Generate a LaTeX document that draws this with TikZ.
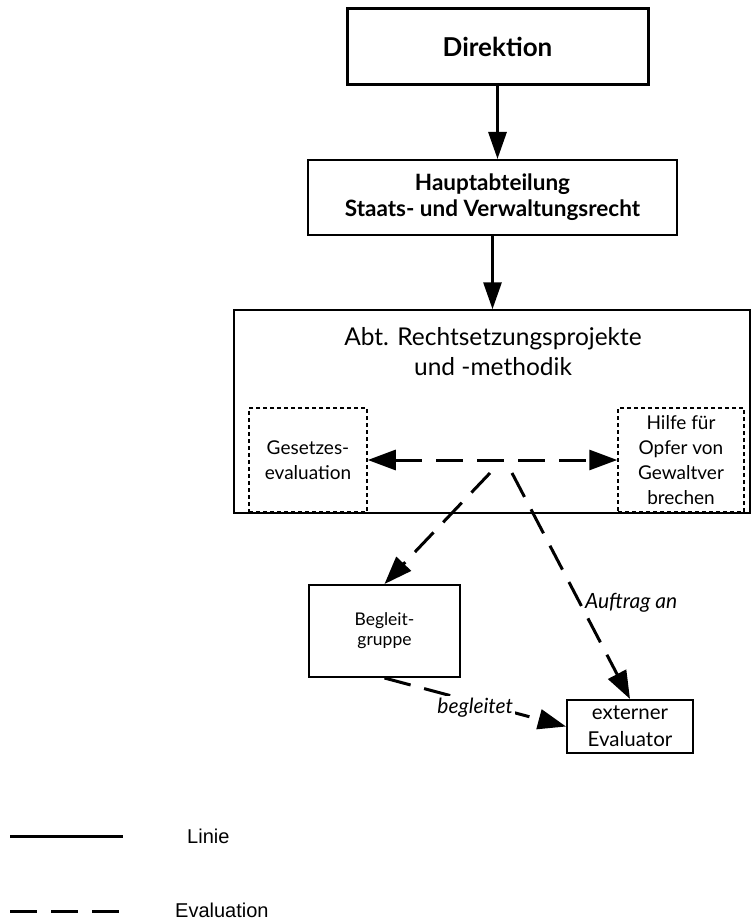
\documentclass[tikz,border=0pt]{standalone}
\usepackage{fontspec}
\setmainfont{Lato}
\newfontfamily\legendfont{Liberation Sans}
\usetikzlibrary{arrows.meta}
\tikzset{
  x=1pt, y=-1pt,
  boxbase/.style={draw, rectangle, align=center, inner sep=0pt},
  dotbox/.style={draw, rectangle, line width=1.5pt, dash pattern=on 4pt off 3pt, align=center, inner sep=0pt, font=\fontsize{19}{25}\selectfont},
  linearrow/.style={line width=3pt, -{Triangle[length=27pt,width=18pt]}},
  evarrow/.style={line width=3pt, dash pattern=on 27pt off 14pt, -{Triangle[length=28pt,width=20pt]}},
  evboth/.style={line width=3pt, dash pattern=on 27pt off 14pt, {Triangle[length=28pt,width=20pt]}-{Triangle[length=28pt,width=20pt]}},
  lbl/.style={font=\fontsize{21}{24}\selectfont\itshape, inner sep=2pt},
  legtext/.style={font=\legendfont\fontsize{20}{24}\selectfont, anchor=west, inner sep=0pt}
}
\begin{document}
\begin{tikzpicture}
\useasboundingbox (0,0) rectangle (752,923);
% boxes
\node[boxbase, line width=3pt, minimum width=301pt, minimum height=76pt, font=\fontsize{26}{30}\selectfont\bfseries] (dir) at (497.5,47) {Direktion};
\node[boxbase, line width=2pt, minimum width=369pt, minimum height=75pt, font=\fontsize{22.5}{26}\selectfont\bfseries] (haupt) at (492.5,197.5) {Hauptabteilung\\Staats- und Verwaltungsrecht};
\node[boxbase, line width=1.5pt, minimum width=516pt, minimum height=203pt] (abt) at (492,411.5) {};
\node[align=center, inner sep=0pt, font=\fontsize{24.5}{30}\selectfont] (abttitle) at (493,352) {Abt. Rechtsetzungsprojekte\\und -methodik};
\node[dotbox, minimum width=118pt, minimum height=104pt] (ges) at (308,460) {Gesetzes-\\evaluation};
\node[dotbox, minimum width=126pt, minimum height=104pt] (hilfe) at (681,460) {Hilfe für\\Opfer von\\Gewaltver\\brechen};
\node[boxbase, line width=2pt, minimum width=151pt, minimum height=92pt, font=\fontsize{17.5}{20}\selectfont] (begl) at (384.5,631) {Begleit-\\gruppe};
\node[boxbase, line width=2pt, minimum width=126pt, minimum height=53pt, font=\fontsize{20.5}{27}\selectfont] (ext) at (630,726.5) {externer\\Evaluator};
% solid arrows
\draw[linearrow] (dir.south) -- (dir.south |- haupt.north);
\draw[linearrow] (haupt.south) -- (haupt.south |- abt.north);
% evaluation arrows
\coordinate (s1) at (490,473);
\coordinate (s2) at (512,473);
\draw[evboth] (ges.east) -- (hilfe.west);
\draw[evarrow] (s1) -- (begl.north);
\draw[evarrow] (s2) -- (ext.north) node[lbl, pos=0.573, anchor=west, xshift=2pt] {Auftrag an};
\draw[evarrow] (begl.south) -- (ext.west) node[lbl, pos=0.5, fill=white, yshift=-5pt] {begleitet};
% legend
\coordinate (l1a) at (10,836);
\coordinate (l1b) at (123,836);
\coordinate (l2a) at (10,911);
\coordinate (l2b) at (119,911);
\draw[line width=3pt] (l1a) -- (l1b);
\draw[line width=3pt, dash pattern=on 27pt off 14pt] (l2a) -- (l2b);
\node[legtext] (leg1) at (187,836) {Linie};
\node[legtext] (leg2) at (175,910) {Evaluation};
\end{tikzpicture}
\end{document}
